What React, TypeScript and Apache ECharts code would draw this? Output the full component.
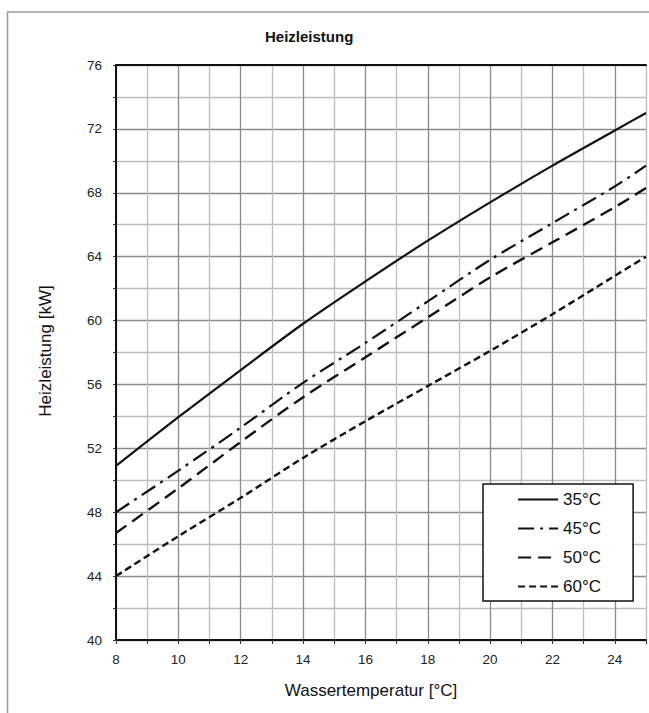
import React, { useEffect, useRef } from 'react';
import * as echarts from 'echarts';

const temps = [8, 10, 12, 14, 16, 18, 20, 22, 24, 25];
const s35 = [50.9, 53.95, 56.9, 59.8, 62.45, 65.0, 67.4, 69.7, 71.9, 73.0];
const s45 = [48.0, 50.6, 53.3, 56.1, 58.6, 61.2, 63.8, 66.1, 68.4, 69.7];
const s50 = [46.7, 49.5, 52.4, 55.2, 57.7, 60.2, 62.7, 64.9, 67.1, 68.3];
const s60 = [44.0, 46.5, 48.9, 51.4, 53.7, 55.9, 58.1, 60.4, 62.8, 64.0];
const seriesNames = ['35°C', '45°C', '50°C', '60°C'];
const xTickLabels = [8, 10, 12, 14, 16, 18, 20, 22, 24];
const yTickLabels = [40, 44, 48, 52, 56, 60, 64, 68, 72, 76];

const FONT = '"Liberation Sans", Arial, sans-serif';

export default function App() {
  const ref = useRef<HTMLDivElement>(null);
  useEffect(() => {
    if (!ref.current) return;
    const chart = echarts.init(ref.current, undefined, { renderer: 'svg' });
    const values = [s35, s45, s50, s60];
    const dashes: any[] = ['solid', [16, 6, 3, 6], [13, 7], [7, 4]];
    const widths = [2.2, 2.2, 2.4, 2.4];
    const series = seriesNames.map((name, i) => ({
      name,
      type: 'line',
      xAxisIndex: 0,
      symbol: 'none',
      smooth: 0.3,
      data: temps.map((t, j) => [t, values[i][j]]),
      lineStyle: { color: '#111', width: widths[i], type: dashes[i] },
      itemStyle: { color: '#111' },
      z: 3,
    }));
    chart.setOption({
      animation: false,
      backgroundColor: '#fff',
      title: {
        text: 'Heizleistung',
        left: 265,
        top: 29,
        padding: 0,
        textStyle: { fontFamily: FONT, fontSize: 15, fontWeight: 'bold', color: '#111' },
      },
      grid: { left: 116, top: 65, width: 538, height: 575 },
      xAxis: [
        {
          type: 'value',
          min: 8,
          max: 25,
          interval: 1,
          position: 'bottom',
          axisLine: { show: true, lineStyle: { color: '#111', width: 2 } },
          axisTick: { show: true, length: 4, lineStyle: { color: '#333', width: 1 } },
          axisLabel: {
            margin: 12,
            fontFamily: FONT,
            fontSize: 13.5,
            color: '#222',
            formatter: (v: number) => (xTickLabels.includes(v) ? String(v) : ''),
          },
          splitLine: { show: true, lineStyle: { color: ['#8a8a8a', '#bdbdbd'], width: 1.3 } },
        },
        {
          type: 'value',
          min: 8,
          max: 25,
          interval: 1,
          position: 'top',
          axisLine: { show: true, lineStyle: { color: '#111', width: 2 } },
          axisTick: { show: false },
          axisLabel: { show: false },
          splitLine: { show: false },
        },
      ],
      yAxis: {
        type: 'value',
        min: 40,
        max: 76,
        interval: 2,
        axisLine: { show: true, lineStyle: { color: '#111', width: 2 } },
        axisTick: { show: true, length: 3, lineStyle: { color: '#333', width: 1 } },
        axisLabel: {
          margin: 14,
          fontFamily: FONT,
          fontSize: 13.5,
          color: '#222',
          formatter: (v: number) => (yTickLabels.includes(v) ? String(v) : ''),
        },
        splitLine: { show: true, lineStyle: { color: ['#8a8a8a', '#bdbdbd'], width: 1.3 } },
      },
      legend: {
        orient: 'vertical',
        left: 483,
        top: 484,
        padding: [7, 32, 6, 34],
        itemWidth: 40,
        itemHeight: 17,
        itemGap: 12,
        backgroundColor: '#fff',
        borderColor: '#111',
        borderWidth: 1.5,
        borderRadius: 0,
        data: seriesNames,
        itemStyle: { opacity: 0, borderWidth: 0 },
        lineStyle: { width: 2.2 },
        textStyle: { fontFamily: FONT, fontSize: 17, color: '#111', lineHeight: 17 },
      },
      graphic: [
        {
          type: 'rect',
          silent: true,
          z: -10,
          shape: { x: 7.5, y: 12, width: 800, height: 800 },
          style: { fill: 'none', stroke: '#9a9a9a', lineWidth: 1.5 },
        },
        {
          type: 'text',
          silent: true,
          x: 45,
          y: 351,
          rotation: Math.PI / 2,
          style: {
            text: 'Heizleistung [kW]',
            fontFamily: FONT,
            fontSize: 17,
            fill: '#111',
            textAlign: 'center',
            textVerticalAlign: 'middle',
          },
        },
        {
          type: 'text',
          silent: true,
          x: 371,
          y: 690,
          style: {
            text: 'Wassertemperatur [°C]',
            fontFamily: FONT,
            fontSize: 17,
            fill: '#111',
            textAlign: 'center',
            textVerticalAlign: 'middle',
          },
        },
      ],
      series,
    });
    return () => chart.dispose();
  }, []);
  return (
    <div
      ref={ref}
      style={{ position: 'absolute', left: 0, top: 0, width: 649, height: 713 }}
    />
  );
}
